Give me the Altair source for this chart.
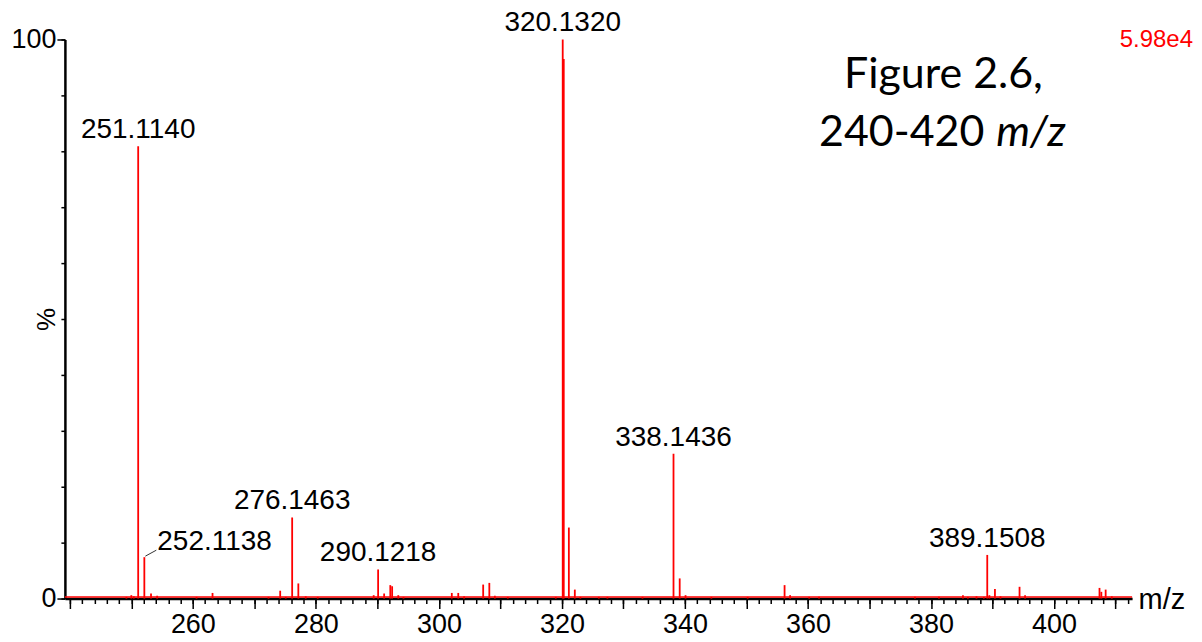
import altair as alt
import pandas as pd

# ---- data ----
mz = [249.2, 250.0, 250.4, 251.1140, 252.1138, 253.2, 254.2, 260.6, 263.2, 272.3,
      274.2, 275.1, 276.1463, 277.15, 278.35, 280.3, 289.4, 290.1218, 291.1, 292.1,
      292.4, 293.4, 294.25, 302.1, 303.15, 304.1, 307.2, 308.2, 309.1, 311.2,
      319.0, 320.1320, 320.3, 321.13, 322.1, 323.0, 326.0, 327.4, 333.1, 338.1436,
      339.15, 340.1, 344.3, 350.2, 356.2, 357.1, 360.2, 361.8, 377.4, 381.3,
      385.2, 386.0, 387.4, 388.6, 389.1508, 389.5, 390.4, 391.3, 394.4, 395.3,
      407.4, 407.7, 408.4, 409.4]
intensity = [0.3, 0.6, 0.4, 80.9, 7.4, 0.9, 0.5, 0.3, 1.0, 0.3,
             1.4, 0.3, 14.5, 2.7, 0.4, 0.3, 0.6, 5.2, 0.9, 2.4,
             2.2, 0.6, 0.3, 1.0, 1.0, 0.4, 2.5, 2.8, 0.5, 0.3,
             0.3, 100.0, 96.5, 12.7, 1.6, 0.3, 0.3, 0.3, 0.3, 25.9,
             3.6, 0.6, 0.3, 0.3, 2.4, 0.6, 0.3, 0.3, 0.3, 0.3,
             0.6, 0.3, 0.4, 0.3, 7.8, 0.6, 1.7, 0.4, 2.1, 0.6,
             1.9, 1.2, 1.6, 0.4]

label_mz = [251.1140, 252.1138, 276.1463, 290.1218, 320.1320, 338.1436, 389.1508]
label_text = ["251.1140", "252.1138", "276.1463", "290.1218", "320.1320", "338.1436", "389.1508"]
leader_labels = ["252.1138"]

x_domain = [239.2, 412.7]
y_domain = [0, 100]
x_minor_ticks = list(range(240, 413, 2))
x_major_ticks = list(range(240, 411, 10))
y_minor_ticks = list(range(0, 101, 10))
y_major_ticks = [0, 100]

FONT = "Liberation Sans"
RED = "#ff0000"

peaks = pd.DataFrame({"mz": mz, "h": intensity})
h_lookup = dict(zip(mz, intensity))
labels = pd.DataFrame({
    "mz": label_mz,
    "h": [h_lookup[m] for m in label_mz],
    "text": label_text,
})
labels["leader"] = labels["text"].isin(leader_labels)
one_row = alt.Data(values=[{"k": 1}])

xs = alt.Scale(domain=x_domain, nice=False, zero=False)
ys = alt.Scale(domain=y_domain, nice=False, zero=False)

x_major_axis = alt.Axis(
    orient="bottom", values=x_major_ticks, tickSize=10, tickWidth=1.5, tickColor="black",
    labelExpr="(datum.value % 20 == 0 && datum.value >= 260) ? datum.label : ''",
    labelFont=FONT, labelFontSize=27, labelColor="black", labelPadding=3,
    domain=True, domainColor="black", domainWidth=2.5, grid=False,
    title="m/z", titleFont=FONT, titleFontSize=29, titleFontWeight="normal",
    titleColor="black", titleX=1075, titleY=1, titleAlign="left",
    titleBaseline="middle", titleAngle=0,
)
x_minor_axis = alt.Axis(
    orient="bottom", values=x_minor_ticks, tickSize=5, tickWidth=1.5, tickColor="black",
    labels=False, domain=False, grid=False, title=None,
)
y_major_axis = alt.Axis(
    orient="left", values=y_major_ticks, tickSize=8, tickWidth=1.5, tickColor="black",
    labelFont=FONT, labelFontSize=27, labelColor="black", labelPadding=1,
    domain=True, domainColor="black", domainWidth=2.5, grid=False,
    title="%", titleFont=FONT, titleFontSize=26, titleFontWeight="normal",
    titleColor="black", titleX=-18, titleY=280, titleAngle=270,
    titleAlign="center", titleBaseline="middle",
)
y_minor_axis = alt.Axis(
    orient="left", values=y_minor_ticks, tickSize=4, tickWidth=1.5, tickColor="black",
    labels=False, domain=False, grid=False, title=None,
)

sticks = alt.Chart(peaks).mark_rule(color=RED, strokeWidth=1.8).encode(
    x=alt.X("mz:Q", scale=xs, axis=x_major_axis),
    y=alt.Y("h:Q", scale=ys, axis=y_major_axis),
    y2=alt.datum(0),
)

minor = alt.Chart(peaks).mark_point(opacity=0).encode(
    x=alt.X("mz:Q", scale=xs, axis=x_minor_axis),
    y=alt.Y("h:Q", scale=ys, axis=y_minor_axis),
)

baseline = alt.Chart(one_row).mark_rule(color=RED, strokeWidth=1.5, yOffset=-1.5).encode(
    x=alt.value(0), x2=alt.value(1069), y=alt.value(560)
)

peak_labels = alt.Chart(labels).transform_filter("!datum.leader").mark_text(
    font=FONT, fontSize=28, color="black", baseline="middle", align="center", dy=-16
).encode(x=alt.X("mz:Q", scale=xs, axis=None), y=alt.Y("h:Q", scale=ys, axis=None), text="text:N")

leader_text = alt.Chart(labels).transform_filter("datum.leader").mark_text(
    font=FONT, fontSize=28, color="black", baseline="middle", align="left", dx=13, dy=-15
).encode(x=alt.X("mz:Q", scale=xs, axis=None), y=alt.Y("h:Q", scale=ys, axis=None), text="text:N")

leader_line = alt.Chart(labels).transform_filter("datum.leader").mark_rule(
    color="#333333", strokeWidth=1, xOffset=1, yOffset=-1, x2Offset=12, y2Offset=-7
).encode(
    x=alt.X("mz:Q", scale=xs, axis=None), y=alt.Y("h:Q", scale=ys, axis=None),
    x2="mz:Q", y2="h:Q",
)

intensity_note = alt.Chart(one_row).mark_text(
    font=FONT, fontSize=24, color=RED, align="right", baseline="middle"
).encode(x=alt.value(1130), y=alt.value(1), text=alt.value("5.98e4"))

fig1 = alt.Chart(one_row).mark_text(
    font="Lato", fontSize=43, color="black", align="center", baseline="alphabetic"
).encode(x=alt.value(880), y=alt.value(49), text=alt.value("Figure 2.6,"))

fig2a = alt.Chart(one_row).mark_text(
    font="Lato", fontSize=43, color="black", align="right", baseline="alphabetic"
).encode(x=alt.value(921), y=alt.value(107), text=alt.value("240-420"))

fig2b = alt.Chart(one_row).mark_text(
    font="Lato", fontSize=43, fontStyle="italic", color="black", align="left", baseline="alphabetic"
).encode(x=alt.value(933), y=alt.value(107), text=alt.value("m/z"))

chart = alt.layer(
    minor, baseline, sticks, leader_line, peak_labels, leader_text,
    intensity_note, fig1, fig2a, fig2b
).resolve_axis(x="independent", y="independent").properties(
    width=1069, height=560,
    padding={"left": 57, "top": 31, "right": 62, "bottom": 45},
    autosize=alt.AutoSizeParams(type="none"),
    background="white",
).configure_view(stroke=None)

chart.save("out.html", embed_options={"renderer": "svg", "actions": False})
